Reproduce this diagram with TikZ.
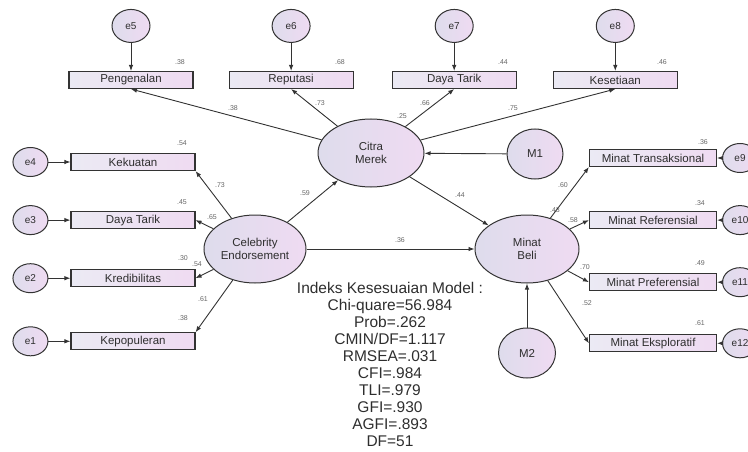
\documentclass[tikz,border=0pt]{standalone}
\usepackage{fontspec}
\setmainfont{Liberation Sans}
\usetikzlibrary{arrows.meta, positioning, shapes.geometric}

\definecolor{edgegray}{HTML}{333333}
\definecolor{lavleft}{HTML}{DEDCEC}
\definecolor{lavright}{HTML}{EFDBF2}
\definecolor{txtgray}{HTML}{2E2E2E}
\definecolor{numgray}{HTML}{666666}

\begin{document}
\begin{tikzpicture}[
		x=1pt, y=-1pt,
		font=\fontsize{11.5}{13}\selectfont,
		latent/.style={ellipse, draw=edgegray, line width=1pt, left color=lavleft, right color=lavright, minimum width=106pt, minimum height=68pt, align=center, inner sep=1pt, text=txtgray},
		indicator/.style={rectangle, draw=edgegray, line width=1.1pt, left color=lavleft!60!white, right color=lavright, minimum width=124pt, minimum height=17pt, inner sep=1pt, text=txtgray, font=\fontsize{11.5}{13}\selectfont},
		errnode/.style={ellipse, draw=edgegray, line width=1pt, left color=lavleft, right color=lavright, minimum width=35pt, minimum height=29pt, inner sep=0pt, text=txtgray, font=\fontsize{10}{12}\selectfont},
		est/.style={font=\fontsize{7}{8}\selectfont, text=numgray, inner sep=1pt},
		arrow/.style={-{Latex[length=6pt,width=4.5pt]}, line width=0.9pt, draw=edgegray}
		]
		\useasboundingbox (0,0) rectangle (748,452);
		
		% Latent variables
		\node[latent] (cm) at (371,153) {Citra\\Merek};
		\node[latent, minimum width=102pt] (ce) at (255,249) {Celebrity\\Endorsement};
		\node[latent, minimum width=104pt] (mb) at (527,249) {Minat\\Beli};
		\node[errnode, minimum width=56pt, minimum height=50pt, font=\fontsize{11.5}{13}\selectfont] (m1) at (535,154) {M1};
		\node[errnode, minimum width=57pt, minimum height=50pt, font=\fontsize{11.5}{13}\selectfont] (m2) at (527,353) {M2};
		
		% Citra Merek indicators
		\node[indicator] (pgen) at (131,80) {Pengenalan};
		\node[indicator] (rep) [right=35pt of pgen] {Reputasi};
		\node[indicator] (dtk) [right=38pt of rep] {Daya Tarik};
		\node[indicator] (kes) [right=36pt of dtk] {Kesetiaan};
		\node[errnode, minimum width=38pt, minimum height=33pt] (e5) [above=28pt of pgen] {e5};
		\node[errnode, minimum width=38pt, minimum height=33pt] (e6) [above=28pt of rep] {e6};
		\node[errnode, minimum width=38pt, minimum height=33pt] (e7) [above=28pt of dtk] {e7};
		\node[errnode, minimum width=38pt, minimum height=33pt] (e8) [above=28pt of kes] {e8};
		
		% Celebrity Endorsement indicators
		\node[indicator] (kek) at (133,162) {Kekuatan};
		\node[indicator] (dtl) [below=40pt of kek] {Daya Tarik};
		\node[indicator] (kred) [below=40pt of dtl] {Kredibilitas};
		\node[indicator] (kep) [below=45pt of kred] {Kepopuleran};
		\node[errnode] (e4) [left=22pt of kek] {e4};
		\node[errnode] (e3) [left=22pt of dtl] {e3};
		\node[errnode] (e2) [left=22pt of kred] {e2};
		\node[errnode] (e1) [left=22pt of kep] {e1};
		
		% Minat Beli indicators
		\node[indicator, minimum width=127pt] (mt) at (653,158) {Minat Transaksional};
		\node[indicator, minimum width=127pt] (mr) [below=44pt of mt] {Minat Referensial};
		\node[indicator, minimum width=127pt] (mp) [below=44pt of mr] {Minat Preferensial};
		\node[indicator, minimum width=127pt] (me) [below=43pt of mp] {Minat Eksploratif};
		\node[errnode] (e9) [right=5pt of mt] {e9};
		\node[errnode] (e10) [right=5pt of mr] {e10};
		\node[errnode] (e11) [right=5pt of mp] {e11};
		\node[errnode] (e12) [right=5pt of me] {e12};
		
		% Arrows
		\draw[arrow] (e5) -- (pgen);
		\draw[arrow] (e6) -- (rep);
		\draw[arrow] (e7) -- (dtk);
		\draw[arrow] (e8) -- (kes);
		\draw[arrow] (cm) -- (pgen.south);
		\draw[arrow] (cm) -- (rep.south);
		\draw[arrow] (cm) -- (dtk.south);
		\draw[arrow] (cm) -- (kes.south);
		
		\draw[arrow] (e4) -- (kek);
		\draw[arrow] (e3) -- (dtl);
		\draw[arrow] (e2) -- (kred);
		\draw[arrow] (e1) -- (kep);
		\draw[arrow] (ce) -- (kek.south east);
		\draw[arrow] (ce) -- (dtl.east);
		\draw[arrow] (ce) -- (kred.east);
		\draw[arrow] (ce) -- (kep.north east);
		
		\draw[arrow] (e9) -- (mt);
		\draw[arrow] (e10) -- (mr);
		\draw[arrow] (e11) -- (mp);
		\draw[arrow] (e12) -- (me);
		\draw[arrow] (mb) -- (mt.south west);
		\draw[arrow] (mb) -- (mr.west);
		\draw[arrow] (mb) -- (mp.west);
		\draw[arrow] (mb) -- (me.west);
		
		\draw[arrow] (m1) -- (cm);
		\draw[arrow] (m2) -- (mb);
		\draw[arrow] (ce) -- (cm);
		\draw[arrow] (cm) -- (mb);
		\draw[arrow] (ce) -- (mb);
		
		% Estimates
		\node[est] (r2pgen) at (180,62) {.38};
		\node[est] (r2rep) at (340,62) {.68};
		\node[est] (r2dtk) at (503,62) {.44};
		\node[est] (r2kes) at (662,62) {.46};
		\node[est] (lpgen) at (233,108) {.38};
		\node[est] (lrep) at (320,103) {.73};
		\node[est] (ldtk) at (425,103) {.66};
		\node[est] (r2cm) at (402,116) {.25};
		\node[est] (lkes) at (513,108) {.75};
		
		\node[est] (r2kek) at (182,143) {.54};
		\node[est] (lkek) at (220,185) {.73};
		\node[est] (r2dtl) at (182,202) {.45};
		\node[est] (ldtl) at (212,217) {.65};
		\node[est] (r2kred) at (183,258) {.30};
		\node[est] (lkred) at (197,264) {.54};
		\node[est] (lkep) at (203,299) {.61};
		\node[est] (r2kep) at (183,318) {.38};
		
		\node[est] (lcecm) at (305,193) {.59};
		\node[est] (lcemb) at (400,240) {.36};
		\node[est] (lcmmb) at (460,195) {.44};
		
		\node[est] (r2mb) at (555,210) {.43};
		\node[est] (lmt) at (563,185) {.60};
		\node[est] (lmr) at (573,220) {.58};
		\node[est] (lmp) at (585,267) {.70};
		\node[est] (lme) at (587,303) {.52};
		\node[est] (r2mt) at (703,142) {.36};
		\node[est] (r2mr) at (700,203) {.34};
		\node[est] (r2mp) at (700,263) {.49};
		\node[est] (r2me) at (700,323) {.61};
		
		% Fit indices
		\node[align=center, anchor=north, text=txtgray, font=\fontsize{15.5}{17}\selectfont] (fit) at (390,279) {Indeks Kesesuaian Model :\\Chi-quare=56.984\\Prob=.262\\CMIN/DF=1.117\\RMSEA=.031\\CFI=.984\\TLI=.979\\GFI=.930\\AGFI=.893\\DF=51};
		
	\end{tikzpicture}
\end{document}
